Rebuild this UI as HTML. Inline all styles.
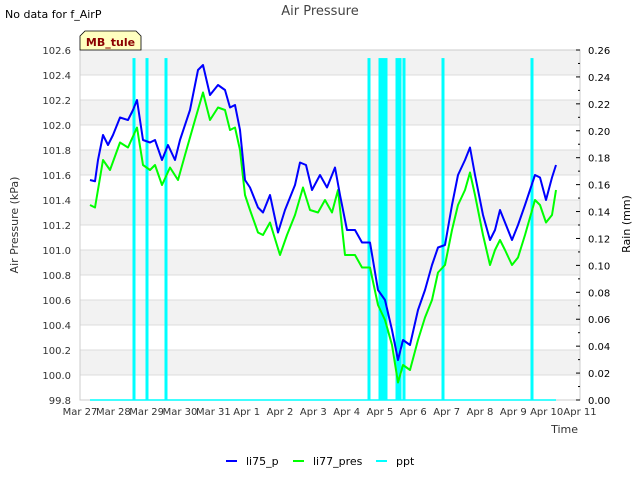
<!DOCTYPE html>
<html><head><meta charset="utf-8"><style>
body{margin:0;background:#fff;font-family:"Liberation Sans","DejaVu Sans",sans-serif}
svg text{font-family:"DejaVu Sans","Liberation Sans",sans-serif}
</style></head><body>
<svg id="chart" width="640" height="480" xmlns="http://www.w3.org/2000/svg">
<rect width="640" height="480" fill="#fff"/>
<text x="5" y="18" font-size="11" fill="#000">No data for f_AirP</text>
<text x="320" y="15" font-size="13" fill="#444" text-anchor="middle">Air Pressure</text>
<g id="plot"></g>
<g>
<path d="M80,50 L80,36 L85,31 L136,31 L141,36 L141,50 Z" fill="#ffffc0" stroke="#000" stroke-width="0.8"/>
<text x="110.5" y="46" font-size="11" font-weight="bold" fill="#8b0000" text-anchor="middle">MB_tule</text>
</g>
<text transform="translate(18,225) rotate(-90)" font-size="11" fill="#333" text-anchor="middle">Air Pressure (kPa)</text>
<text transform="translate(630,224) rotate(-90)" font-size="11" fill="#000" text-anchor="middle">Rain (mm)</text>
<text x="578" y="433" font-size="11" fill="#333" text-anchor="end">Time</text>
<g font-size="11">
<g><line x1="226" y1="461" x2="237" y2="461" stroke="#0000ff" stroke-width="2"/><text x="246" y="465">li75_p</text></g>
<g><line x1="293" y1="461" x2="304" y2="461" stroke="#00ff00" stroke-width="2"/><text x="313" y="465">li77_pres</text></g>
<g><line x1="376" y1="461" x2="387" y2="461" stroke="#00ffff" stroke-width="2"/><text x="396" y="465">ppt</text></g>
</g>
</svg>
<script>
const xLabels=["Mar 27","Mar 28","Mar 29","Mar 30","Mar 31","Apr 1","Apr 2","Apr 3","Apr 4","Apr 5","Apr 6","Apr 7","Apr 8","Apr 9","Apr 10","Apr 11"];
const yTicks=[99.8,100.0,100.2,100.4,100.6,100.8,101.0,101.2,101.4,101.6,101.8,102.0,102.2,102.4,102.6];
const y2Ticks=[0,0.02,0.04,0.06,0.08,0.10,0.12,0.14,0.16,0.18,0.20,0.22,0.24,0.26];
const li75Days=[0.3,0.45,0.54,0.69,0.84,0.99,1.2,1.44,1.59,1.71,1.89,2.1,2.25,2.46,2.64,2.85,3.0,3.3,3.54,3.69,3.9,4.14,4.35,4.5,4.65,4.8,4.95,5.1,5.34,5.49,5.7,5.94,6.15,6.45,6.6,6.78,6.96,7.2,7.41,7.65,7.8,8.01,8.25,8.46,8.7,8.94,9.15,9.36,9.54,9.69,9.9,10.14,10.35,10.56,10.74,10.95,11.16,11.34,11.55,11.7,11.85,12.09,12.3,12.45,12.6,12.75,12.96,13.14,13.35,13.65,13.8,13.98,14.16,14.28];
const li75Vals=[101.56,101.55,101.72,101.92,101.84,101.92,102.06,102.04,102.12,102.2,101.88,101.86,101.88,101.72,101.84,101.72,101.88,102.12,102.44,102.48,102.24,102.32,102.28,102.14,102.16,101.96,101.56,101.5,101.34,101.3,101.44,101.14,101.32,101.52,101.7,101.68,101.48,101.6,101.5,101.66,101.44,101.16,101.16,101.06,101.06,100.68,100.6,100.36,100.12,100.28,100.24,100.52,100.68,100.88,101.02,101.04,101.36,101.6,101.72,101.82,101.6,101.28,101.08,101.16,101.32,101.22,101.08,101.2,101.36,101.6,101.58,101.4,101.58,101.68];
const li77Days=[0.3,0.45,0.69,0.9,1.2,1.44,1.71,1.89,2.1,2.25,2.46,2.7,2.94,3.15,3.45,3.69,3.9,4.14,4.35,4.5,4.65,4.8,4.95,5.1,5.34,5.49,5.7,6.0,6.21,6.45,6.69,6.9,7.14,7.35,7.56,7.74,7.95,8.25,8.46,8.7,8.94,9.15,9.36,9.54,9.69,9.9,10.14,10.35,10.56,10.74,10.95,11.16,11.34,11.55,11.7,11.85,12.09,12.3,12.45,12.6,12.75,12.96,13.14,13.35,13.65,13.8,13.98,14.16,14.28];
const li77Vals=[101.36,101.34,101.72,101.64,101.86,101.82,101.98,101.68,101.64,101.68,101.52,101.66,101.56,101.76,102.04,102.26,102.04,102.14,102.12,101.96,101.98,101.8,101.44,101.32,101.14,101.12,101.22,100.96,101.12,101.28,101.5,101.32,101.3,101.4,101.3,101.48,100.96,100.96,100.86,100.86,100.56,100.44,100.24,99.94,100.08,100.04,100.28,100.46,100.6,100.82,100.88,101.16,101.36,101.48,101.62,101.44,101.12,100.88,101.0,101.08,101.0,100.88,100.94,101.12,101.4,101.36,101.22,101.28,101.48];
const pptDays=[1.62,2.01,2.58,8.67,9.0,9.09,9.18,9.51,9.6,9.72,10.89,13.56];
const pptVals=[0.254,0.254,0.254,0.254,0.254,0.254,0.254,0.254,0.254,0.254,0.254,0.254];
const pptStart=0.3, pptEnd=14.28;

const X0=80,X1=580,Y0=400,Y1=50;
const xS=d=>X0+d*(X1-X0)/15;
const yS=v=>Y0-(v-99.8)*(Y0-Y1)/2.8;
const y2S=v=>Y0-v*(Y0-Y1)/0.26;
const NS="http://www.w3.org/2000/svg";
const plot=document.getElementById('plot');
function mk(tag,attrs,parent){const e=document.createElementNS(NS,tag);for(const k in attrs)e.setAttribute(k,attrs[k]);(parent||plot).appendChild(e);return e;}

// bands and grid
for(let i=0;i<yTicks.length-1;i++){
  if(i%2===1){const b=mk('rect',{x:X0,y:yS(yTicks[i+1]),width:X1-X0,height:yS(yTicks[i])-yS(yTicks[i+1]),fill:'#f2f2f2'});
  
  }
}
yTicks.forEach(v=>{
  const l=mk('line',{x1:X0,x2:X1,y1:yS(v),y2:yS(v),stroke:'#dcdcdc','stroke-width':1});
  
  
  const t=mk('text',{x:71,y:yS(v)+4,'font-size':10,fill:'#333','text-anchor':'end'});
  t.textContent=v.toFixed(1);
  
  
});
mk('rect',{x:X0,y:Y1,width:X1-X0,height:Y0-Y1,fill:'none',stroke:'#ccc','stroke-width':1});
y2Ticks.forEach((v,i)=>{
  mk('line',{x1:X1,x2:X1-4,y1:y2S(v),y2:y2S(v),stroke:'#000'});
  if(i<y2Ticks.length-1){const m=y2S(v+0.01);mk('line',{x1:X1,x2:X1-2,y1:m,y2:m,stroke:'#000'});}
  const t=mk('text',{x:588,y:y2S(v)+4,'font-size':10,fill:'#000'});
  t.textContent=v.toFixed(2);
  
  
});
xLabels.forEach((s,i)=>{
  const t=mk('text',{x:xS(i),y:415,'font-size':10,fill:'#333','text-anchor':'middle'});
  t.textContent=s;
  
  
});
// ppt
const base=mk('line',{x1:xS(pptStart),x2:xS(pptEnd),y1:y2S(0),y2:y2S(0),stroke:'#00ffff','stroke-width':1.5});


pptDays.forEach((d,i)=>{
  const b=mk('rect',{x:xS(d)-1.5,y:y2S(pptVals[i]),width:3,height:y2S(0)-y2S(pptVals[i]),fill:'#00ffff'});
  
  
});
function line(days,vals,color,name){
  const p=mk('polyline',{points:days.map((d,i)=>xS(d)+','+yS(vals[i])).join(' '),fill:'none',stroke:color,'stroke-width':2,'stroke-linejoin':'round'});
  
  
}
line(li77Days,li77Vals,'#00ff00','li77-pres-line');
line(li75Days,li75Vals,'#0000ff','li75-p-line');
</script>
</body></html>
